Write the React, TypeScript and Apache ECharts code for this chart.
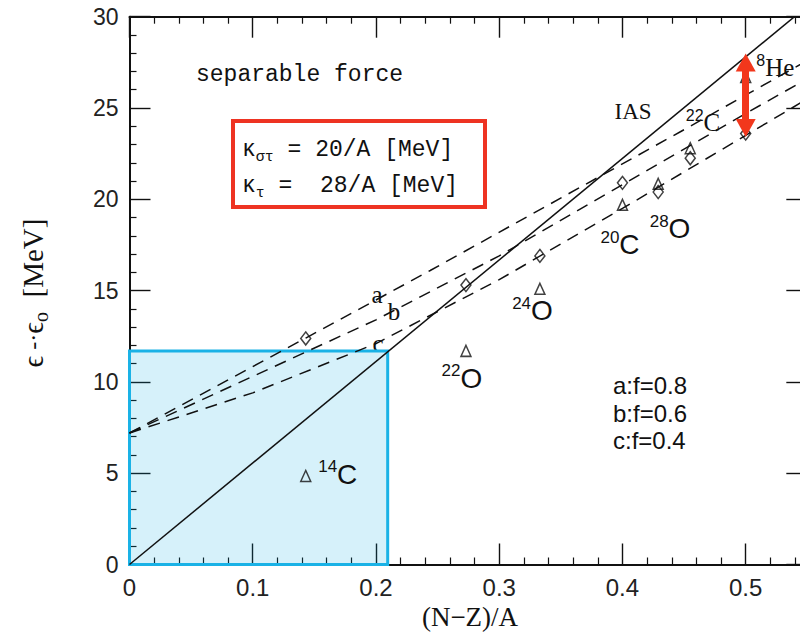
import React, { useEffect, useRef } from "react";
import * as echarts from "echarts";

// ---------------- data ----------------
const nucleusMass = ["14", "22", "24", "20", "28", "22", "8"];
const nucleusElement = ["C", "O", "O", "C", "O", "C", "He"];
const asymmetry = [0.143, 0.273, 0.333, 0.4, 0.429, 0.455, 0.5]; // (N-Z)/A
const separableEnergy = [12.38, 15.3, 16.9, 20.9, 20.4, 22.25, 23.6]; // diamonds
const experimentEnergy = [4.85, 11.7, 15.1, 19.7, 20.85, 22.8, 26.7]; // triangles
const nucleusLabelX = [0.169, 0.2697, 0.327, 0.398, 0.4386, 0.4654, 0.524];
const nucleusLabelY = [4.95, 10.2, 13.9, 17.5, 18.4, 24.2, 27.2];
const serifLabels = ["22C", "8He"];

const iasX = [0, 0.55];
const iasY = [0, 30.58];
const curveAX = [0, 0.143, 0.244, 0.447, 0.55];
const curveAY = [7.2, 12.4, 16.1, 23.7, 27.6];
const curveBX = [0, 0.1, 0.2, 0.3, 0.4, 0.5, 0.55];
const curveBY = [7.2, 10.3, 13.4, 16.9, 20.8, 24.7, 26.6];
const curveCX = [0, 0.1, 0.2, 0.3, 0.4, 0.5, 0.55];
const curveCY = [7.2, 9.4, 12.1, 15.6, 19.5, 23.5, 25.5];

const boxX = [0, 0.2095];
const boxY = [0, 11.69];
const arrowX = 0.5;
const arrowY = [23.91, 27.49];

const xMin = 0;
const xMax = 0.6;
const xStep = 0.1;
const xFrame = 0.55; // right frame of the plot
const yMin = 0;
const yMax = 30;
const yStep = 5;

// ---------------- styling ----------------
const INK = "#111";
const SANS = "Liberation Sans";
const SERIF = "Liberation Serif";
const MONO = "Liberation Mono";

const GRID_LEFT = 129.5;
const GRID_TOP = 16.7;
const GRID_H = 547.8;
const PX_PER_X = 1232.4;

const pairs = (xs: number[], ys: number[]) => xs.map((x, i) => [x, ys[i]]);

const tick = { show: true, inside: true, length: 21, lineStyle: { color: INK, width: 1.4 } };
const minor = { show: true, splitNumber: 5, length: 7, lineStyle: { color: INK, width: 1.2 } };
const axLine = { show: true, lineStyle: { color: INK, width: 2 } };

const labelRich = {
  m: { fontFamily: SANS, fontSize: 17, lineHeight: 17, verticalAlign: "top", fill: INK },
  e: { fontFamily: SANS, fontSize: 28, lineHeight: 32, fill: INK },
  ms: { fontFamily: SANS, fontSize: 16, lineHeight: 16, verticalAlign: "top", fill: INK },
  es: { fontFamily: SERIF, fontSize: 25, lineHeight: 30, fill: INK },
};

function buildOption() {
  const dashed = (xs: number[], ys: number[]) => ({
    type: "line",
    data: pairs(xs, ys),
    symbol: "none",
    z: 3,
    lineStyle: { color: INK, width: 1.5, type: [12, 8] },
  });

  const sideText = (text: string, x: number, y: number, font: string, size: number, align = "center") => ({
    type: "text",
    x,
    y,
    style: { text, fontFamily: font, fontSize: size, fill: INK, align, verticalAlign: "middle" },
  });

  return {
    animation: false,
    grid: [
      {
        left: GRID_LEFT,
        top: GRID_TOP,
        width: (xMax - xMin) * PX_PER_X,
        height: GRID_H,
        outerBoundsMode: "none",
        containLabel: false,
      },
      {
        left: GRID_LEFT + (xFrame - xMin) * PX_PER_X,
        top: GRID_TOP,
        width: 60,
        height: GRID_H,
        outerBoundsMode: "none",
        containLabel: false,
      },
    ],
    xAxis: [
      {
        type: "value",
        gridIndex: 0,
        min: xMin,
        max: xMax,
        interval: xStep,
        position: "bottom",
        axisLine: axLine,
        axisTick: tick,
        minorTick: minor,
        splitLine: { show: false },
        axisLabel: {
          fontFamily: SANS,
          fontSize: 24,
          color: "#222",
          margin: 11,
          showMaxLabel: false,
          formatter: (v: number) => (v > xFrame ? "" : String(v)),
        },
      },
      {
        type: "value",
        gridIndex: 0,
        min: xMin,
        max: xMax,
        interval: xStep,
        position: "top",
        axisLine: axLine,
        axisTick: tick,
        minorTick: minor,
        splitLine: { show: false },
        axisLabel: { show: false },
      },
      {
        type: "value",
        gridIndex: 1,
        min: 0,
        max: 1,
        show: false,
      },
    ],
    yAxis: [
      {
        type: "value",
        gridIndex: 0,
        min: yMin,
        max: yMax,
        interval: yStep,
        position: "left",
        axisLine: axLine,
        axisTick: tick,
        minorTick: minor,
        splitLine: { show: false },
        axisLabel: { fontFamily: SANS, fontSize: 23, color: "#222", margin: 11 },
      },
      {
        type: "value",
        gridIndex: 1,
        min: yMin,
        max: yMax,
        interval: yStep,
        position: "left",
        axisLine: axLine,
        axisTick: { ...tick, inside: false },
        minorTick: minor,
        splitLine: { show: false },
        axisLabel: { show: false },
      },
    ],
    series: [
      {
        type: "line",
        data: [],
        z: 1,
        markArea: {
          silent: true,
          itemStyle: { color: "rgba(0,165,225,0.16)", borderColor: "#1ab2e6", borderWidth: 3 },
          data: [[{ coord: [boxX[0], boxY[0]] }, { coord: [boxX[1], boxY[1]] }]],
        },
      },
      {
        type: "line",
        data: pairs(iasX, iasY),
        symbol: "none",
        z: 3,
        lineStyle: { color: INK, width: 1.5 },
      },
      dashed(curveAX, curveAY),
      dashed(curveBX, curveBY),
      dashed(curveCX, curveCY),
      {
        type: "scatter",
        data: pairs(asymmetry, separableEnergy),
        symbol: "diamond",
        symbolSize: [10, 13],
        z: 4,
        itemStyle: { color: "rgba(0,0,0,0)", borderColor: INK, borderWidth: 1.5 },
      },
      {
        type: "scatter",
        data: pairs(asymmetry, experimentEnergy),
        symbol: "triangle",
        symbolSize: [10, 11],
        z: 4,
        itemStyle: { color: "rgba(0,0,0,0)", borderColor: INK, borderWidth: 1.5 },
      },
      {
        type: "custom",
        silent: true,
        z: 5,
        data: nucleusLabelX.map((x, i) => [x, nucleusLabelY[i], i]),
        renderItem: (_params: any, api: any) => {
          const i = api.value(2);
          const p = api.coord([api.value(0), api.value(1)]);
          const name = nucleusMass[i] + nucleusElement[i];
          const serif = serifLabels.includes(name);
          return {
            type: "text",
            x: p[0],
            y: p[1],
            style: {
              text: serif
                ? `{ms|${nucleusMass[i]}}{es|${nucleusElement[i]}}`
                : `{m|${nucleusMass[i]}}{e|${nucleusElement[i]}}`,
              rich: labelRich,
              fill: INK,
              align: "center",
              verticalAlign: "middle",
            },
          };
        },
      },
      {
        type: "line",
        data: [],
        z: 10,
        markLine: {
          silent: true,
          symbol: ["triangle", "triangle"],
          symbolSize: [20, 18],
          label: { show: false },
          lineStyle: { color: "#f2371c", width: 7, type: "solid" },
          data: [[{ coord: [arrowX, arrowY[0]] }, { coord: [arrowX, arrowY[1]] }]],
        },
      },
    ],
    graphic: [
      sideText("separable force", 196, 75, MONO, 23, "left"),
      {
        type: "rect",
        shape: { x: 233, y: 121, width: 252, height: 86 },
        style: { fill: "none", stroke: "#ee3322", lineWidth: 4 },
      },
      {
        type: "text",
        x: 242,
        y: 150,
        style: {
          text: "{k|κ}{s|στ}{t| = 20/A [MeV]}",
          align: "left",
          verticalAlign: "middle",
          rich: {
            k: { fontFamily: MONO, fontSize: 23, lineHeight: 30, fill: INK },
            s: { fontFamily: MONO, fontSize: 15, lineHeight: 30, verticalAlign: "bottom", fill: INK },
            t: { fontFamily: MONO, fontSize: 23, lineHeight: 30, fill: INK },
          },
        },
      },
      {
        type: "text",
        x: 242,
        y: 186,
        style: {
          text: "{k|κ}{s|τ}{t| =  28/A [MeV]}",
          align: "left",
          verticalAlign: "middle",
          rich: {
            k: { fontFamily: MONO, fontSize: 23, lineHeight: 30, fill: INK },
            s: { fontFamily: MONO, fontSize: 15, lineHeight: 30, verticalAlign: "bottom", fill: INK },
            t: { fontFamily: MONO, fontSize: 23, lineHeight: 30, fill: INK },
          },
        },
      },
      sideText("IAS", 633, 111, SERIF, 23),
      sideText("a", 377, 294, SERIF, 25),
      sideText("b", 394, 311, SERIF, 25),
      sideText("c", 378, 343, SERIF, 25),
      sideText("a:f=0.8", 613, 385, SANS, 24, "left"),
      sideText("b:f=0.6", 613, 413, SANS, 24, "left"),
      sideText("c:f=0.4", 613, 440, SANS, 24, "left"),
      sideText("(N−Z)/A", 470, 617, SERIF, 27),
      {
        type: "text",
        x: 33,
        y: 293,
        rotation: Math.PI / 2,
        style: {
          text: "{e|ϵ}{d| -·}{e|ϵ}{sub|o}{e|  [MeV]}",
          align: "center",
          verticalAlign: "middle",
          rich: {
            e: { fontFamily: SERIF, fontSize: 29, lineHeight: 36, fill: INK },
            d: { fontFamily: SERIF, fontSize: 24, lineHeight: 36, fill: INK },
            sub: { fontFamily: SERIF, fontSize: 20, lineHeight: 36, verticalAlign: "bottom", fill: INK },
          },
        },
      },
    ],
  };
}

export default function App() {
  const ref = useRef<HTMLDivElement>(null);
  useEffect(() => {
    if (!ref.current) return;
    const chart = echarts.init(ref.current, null, { renderer: "svg" });
    chart.setOption(buildOption() as any);
    return () => chart.dispose();
  }, []);
  return (
    <div
      ref={ref}
      style={{ position: "fixed", left: 0, top: 0, width: 800, height: 635, background: "#fff" }}
    />
  );
}
